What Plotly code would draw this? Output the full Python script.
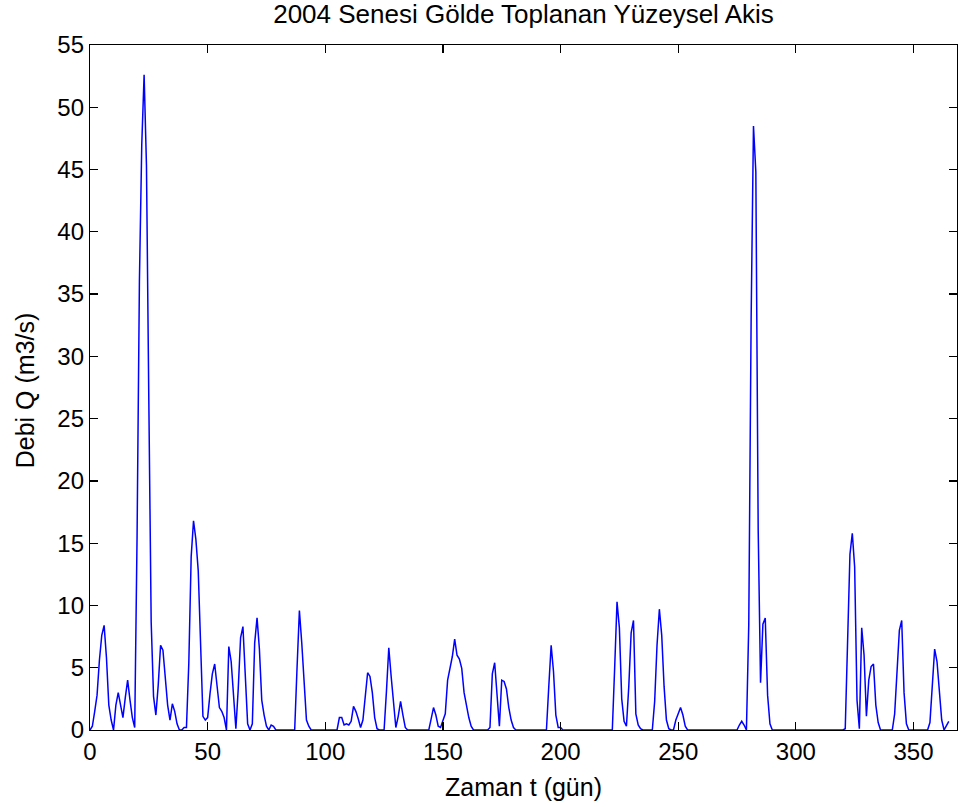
import plotly.graph_objects as go

# Daily surface runoff (m3/s), days 0..365
days = list(range(366))

q_jan_feb = [0, 0.3, 1.5, 2.8, 5.6, 7.6, 8.4, 5.8, 2.0, 0.8,
             0, 2.0, 3.0, 2.0, 1.0, 2.6, 4.0, 2.4, 1.0, 0.2,
             15.5, 36.0, 47.0, 52.6, 45.3, 26.5, 8.7, 2.7, 1.2, 3.6,
             6.8, 6.4, 4.0, 2.0, 0.8, 2.1, 1.5, 0.5, 0, 0,
             0.2, 0.2, 5.4, 13.9, 16.8, 15.3, 12.8, 6.0, 1.1, 0.8,
             1.0, 2.9, 4.5, 5.3, 3.5, 1.8, 1.5, 1.0, 0, 6.7,
             5.5, 2.4, 0.1, 3.3, 7.4, 8.3, 3.7, 0.5, 0, 0.5,
             7.0, 9.0, 6.5, 2.4, 1.2, 0.3, 0, 0.4, 0.3, 0]
q_spring = [0, 0, 0, 0, 0, 0, 0, 0, 5.0, 9.6,
            7.0, 3.5, 0.8, 0.3, 0, 0, 0, 0, 0, 0,
            0, 0, 0, 0, 0, 0, 1.0, 1.0, 0.4, 0.5,
            0.4, 0.7, 1.9, 1.5, 0.9, 0.2, 0.8, 2.5, 4.6, 4.3,
            3.0, 1.0, 0.1, 0, 0, 0, 3.1, 6.6, 4.3, 2.0,
            0.2, 1.1, 2.3, 1.2, 0.2, 0, 0, 0, 0, 0,
            0, 0, 0, 0, 0, 0.9, 1.8, 1.2, 0.3, 0.2,
            0.8, 1.3, 4.0, 5.0, 5.9, 7.3, 6.0, 5.7, 4.95, 3.0,
            1.9, 1.0, 0.3, 0, 0, 0, 0, 0, 0, 0,
            0.2, 4.5, 5.4, 3.0, 0.3, 4.0, 3.9, 3.3, 1.8, 0.8,
            0.2, 0]
q_summer_autumn = [0, 0, 0, 0, 0, 0, 0, 0, 0, 0,
                   0, 0, 0, 3.5, 6.8, 4.7, 1.2, 0.2, 0.2, 0,
                   0, 0, 0, 0, 0, 0, 0, 0, 0, 0,
                   0, 0, 0, 0, 0, 0, 0, 0, 0, 0,
                   0, 5.0, 10.3, 8.2, 2.5, 0.7, 0.3, 3.5, 7.8, 8.8,
                   1.3, 0.4, 0.1, 0, 0, 0, 0, 0, 2.3, 6.8,
                   9.7, 7.6, 3.5, 0.8, 0.1, 0, 0, 0.8, 1.3, 1.8,
                   1.2, 0.3, 0, 0, 0, 0, 0, 0, 0, 0,
                   0, 0, 0, 0, 0, 0, 0, 0, 0, 0,
                   0, 0, 0, 0, 0.4, 0.7, 0.4, 0, 8.5, 33.0,
                   48.5, 44.8, 16.1, 3.8, 8.5, 9.0, 2.8, 0.5, 0, 0]
q_winter = [0, 0, 0, 0, 0, 0, 0, 0, 0, 0,
            0, 0, 0, 0, 0, 0, 0, 0, 0, 0,
            0, 0, 0, 0, 0, 0, 0, 0, 0, 0.1,
            6.3, 14.1, 15.8, 13.1, 2.4, 0.1, 8.2, 6.0, 1.1, 4.0,
            5.1, 5.3, 2.0, 0.6, 0, 0, 0, 0, 0, 0,
            1.3, 4.4, 8.0, 8.8, 3.0, 0.5, 0, 0, 0, 0,
            0, 0, 0, 0, 0, 0.6, 4.0, 6.5, 5.5, 3.0,
            0.8, 0, 0.3, 0.7, 0.5, 0.1]

flow = q_jan_feb + q_spring + q_summer_autumn + q_winter
flow = (flow + [0] * 366)[:366]

x_ticks = [0, 50, 100, 150, 200, 250, 300, 350]
y_ticks = [0, 5, 10, 15, 20, 25, 30, 35, 40, 45, 50, 55]

title_text = "2004 Senesi Gölde Toplanan Yüzeysel Akis"
x_label = "Zaman t (gün)"
y_label = "Debi Q (m3/s)"

FONT = "Liberation Sans, Arial, sans-serif"

fig = go.Figure()
fig.add_trace(go.Scatter(x=days, y=flow, mode="lines",
                         line=dict(color="#0000FF", width=1.5),
                         hoverinfo="skip", showlegend=False))

axis_common = dict(showline=True, linecolor="black", linewidth=1.2, mirror="ticks",
                   ticks="inside", ticklen=8, tickwidth=1.2, tickcolor="black",
                   showgrid=False, zeroline=False,
                   tickfont=dict(family=FONT, size=24, color="black"))

fig.update_xaxes(range=[0, 368.5], tickvals=x_ticks, ticktext=[str(v) for v in x_ticks],
                 **axis_common)
fig.update_yaxes(range=[0, 55], tickvals=y_ticks, ticktext=[str(v) for v in y_ticks],
                 **axis_common)

W, H = 958, 807
left, top, right_edge, bottom_edge = 90, 45, 957, 730
fig.update_layout(
    width=W, height=H,
    margin=dict(l=left, r=W - right_edge, t=top, b=H - bottom_edge, pad=0),
    paper_bgcolor="white", plot_bgcolor="white",
    title=dict(text=title_text, x=0.5, xref="paper", xanchor="center",
               y=1 - 14 / H, yref="container", yanchor="middle",
               font=dict(family=FONT, size=26, color="black")),
    annotations=[
        dict(text=x_label, x=0.5, y=-(787 - bottom_edge) / (bottom_edge - top),
             xref="paper", yref="paper",
             xanchor="center", yanchor="middle", showarrow=False,
             font=dict(family=FONT, size=25, color="black")),
        dict(text=y_label, x=-(left - 25) / (right_edge - left), y=0.496,
             xref="paper", yref="paper",
             xanchor="center", yanchor="middle", showarrow=False, textangle=-90,
             font=dict(family=FONT, size=25, color="black")),
    ],
)

# remove the default page margin so the figure sits at the window's corner
fig.write_html("out.html",
               config={"displayModeBar": False, "staticPlot": True},
               post_script="document.body.style.margin='0';document.body.style.padding='0';")
